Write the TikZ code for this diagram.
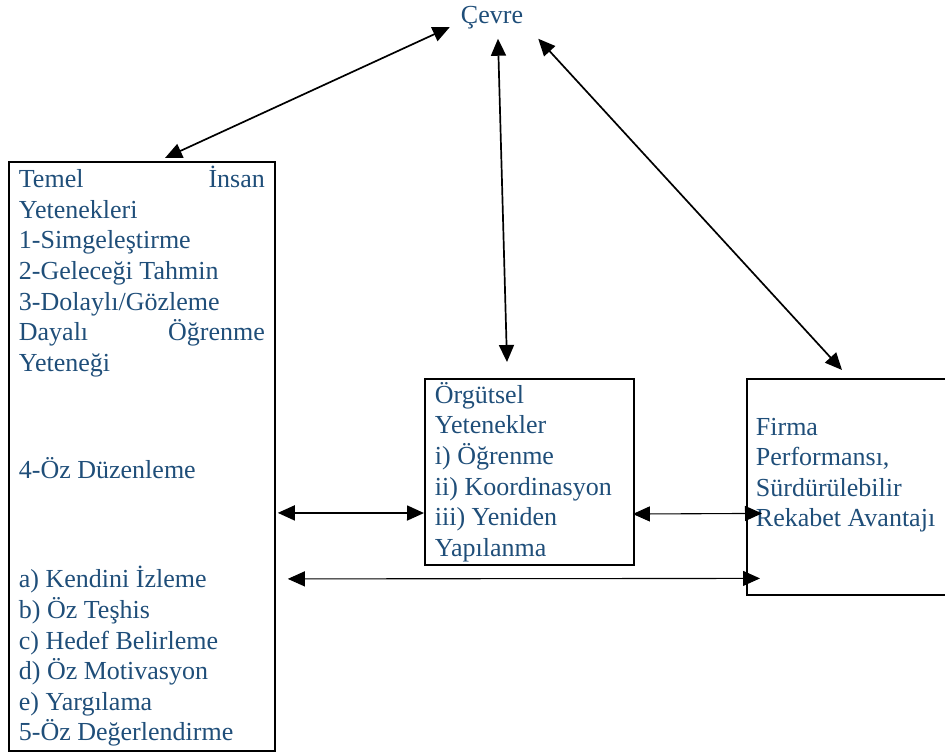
\documentclass[tikz,border=0pt]{standalone}
\usepackage{fontspec}
\setmainfont{Liberation Serif}
\usetikzlibrary{arrows.meta}
\definecolor{textblue}{RGB}{31,78,121}

\begin{document}
\begin{tikzpicture}[x=1pt,y=-1pt,
				label text/.style = {font=\fontsize{26}{30.6}\selectfont,text=textblue},
				main node/.style = {rectangle,draw,line width=1.8pt,label text,align=flush left,inner xsep=10pt},
				link/.style = {line width=1.7pt,{Triangle[length=17pt,width=15pt]}-{Triangle[length=17pt,width=15pt]}},
				thin link/.style = {link,line width=1.1pt}]
				
				\useasboundingbox (0,0) rectangle (945,754);
				
				\node[label text,inner xsep=11pt,inner ysep=9pt,anchor=base] (1) at (492,24) {Çevre};
				\node[main node,anchor=north west,text width=246pt,minimum height=589pt] (2) at (8,161)
					{Temel\hfill İnsan\\
					Yetenekleri\\
					1-Simgeleştirme\\
					2-Geleceği Tahmin\\
					3-Dolaylı/Gözleme\\
					Dayalı\hfill Öğrenme\\
					Yeteneği\\[77pt]
					4-Öz Düzenleme\\[78.4pt]
					a) Kendini İzleme\\
					b) Öz Teşhis\\
					c) Hedef Belirleme\\
					d) Öz Motivasyon\\
					e) Yargılama\\
					5-Öz Değerlendirme};
				\node[main node,anchor=north west,text width=189pt,minimum height=186pt] (3) at (424,378)
					{Örgütsel\\
					Yetenekler\\
					i) Öğrenme\\
					ii) Koordinasyon\\
					iii) Yeniden\\
					Yapılanma};
				\node[main node,anchor=north west,inner xsep=9pt,text width=210pt,minimum height=216pt,text depth=121pt] (4) at (746,378)
					{Firma\\
					Performansı,\\
					Sürdürülebilir\\
					Rekabet Avantajı};
				
				\path[link]
				([yshift=-9pt]1.west) edge ([xshift=157pt,yshift=3pt]2.north west)
				([xshift=6pt]1.south) edge ([xshift=83pt,yshift=16pt]3.north west)
				([xshift=4pt]1.south east) edge ([xshift=96pt,yshift=8pt]4.north west)
				([xshift=2pt,yshift=-56.5pt]2.east) edge ([yshift=-41pt]3.west);
				\path[thin link]
				([xshift=-2pt,yshift=-42pt]3.east) edge ([xshift=16pt,yshift=-26.5pt]4.west)
				([xshift=12pt,yshift=-122.5pt]2.east) edge ([xshift=14pt,yshift=-91.5pt]4.west);
				\end{tikzpicture}
\end{document}
